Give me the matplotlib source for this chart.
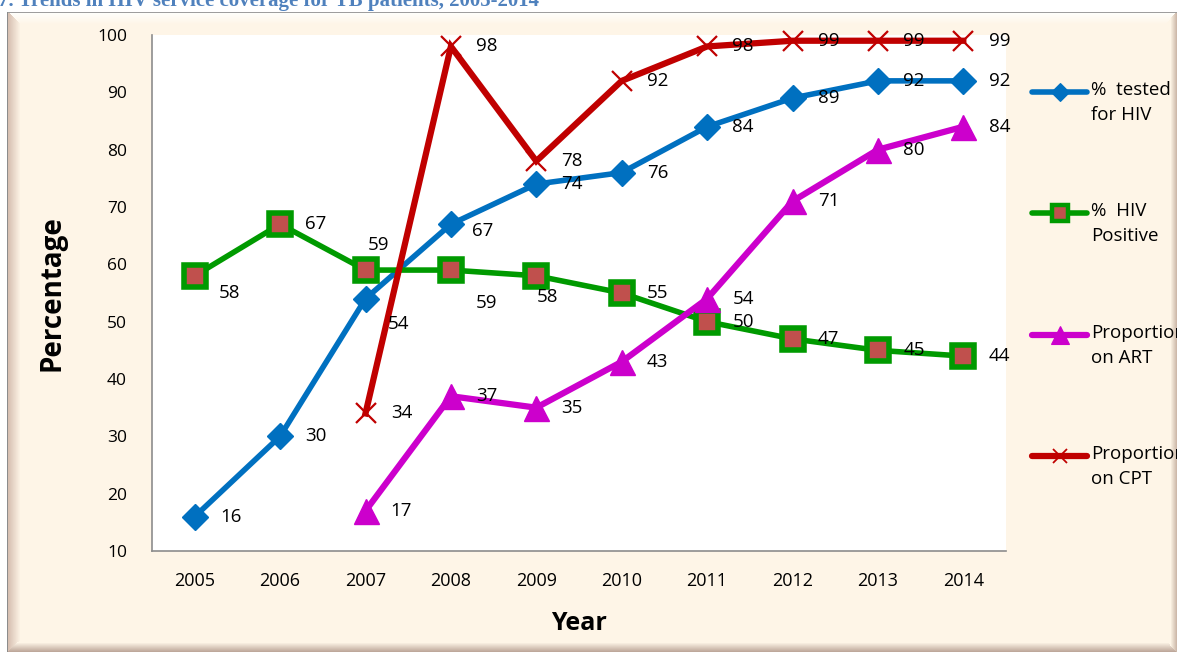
import numpy as np
import matplotlib
matplotlib.use("Agg")
import matplotlib.pyplot as plt
from matplotlib.lines import Line2D

years = [2005, 2006, 2007, 2008, 2009, 2010, 2011, 2012, 2013, 2014]
tested_hiv = [16, 30, 54, 67, 74, 76, 84, 89, 92, 92]
hiv_positive = [58, 67, 59, 59, 58, 55, 50, 47, 45, 44]
art_years = [2007, 2008, 2009, 2010, 2011, 2012, 2013, 2014]
on_art = [17, 37, 35, 43, 54, 71, 80, 84]
cpt_years = [2007, 2008, 2009, 2010, 2011, 2012, 2013, 2014]
on_cpt = [34, 98, 78, 92, 98, 99, 99, 99]

W, H, DPI = 1177, 652, 100
BEIGE = np.array([254, 245, 231]) / 255.0

fig = plt.figure(figsize=(W / DPI, H / DPI), dpi=DPI, facecolor="white")

# bevelled beige frame behind the chart
bg = np.ones((H, W, 3))
x0, y0 = 8, 12
bg[y0:, x0:] = BEIGE
def band(sl, c_out, c_in, n):
    for i in range(n):
        t = i / max(n - 1, 1)
        c = (1 - t) * np.array(c_out) / 255.0 + t * np.array(c_in) / 255.0
        sl(i, c)
def set_left(i, c): bg[y0 + i:H - i, x0 + i] = c
def set_top(i, c): bg[y0 + i, x0 + i:W - i] = c
def set_bottom(i, c): bg[H - 1 - i, x0 + i:W - i] = c
def set_right(i, c): bg[y0 + i:H - i, W - 1 - i] = c
band(set_top, (255, 255, 252), BEIGE * 255, 13)
band(set_left, (215, 192, 178), BEIGE * 255, 13)
band(set_bottom, (190, 168, 155), BEIGE * 255, 10)
band(set_right, (205, 185, 170), BEIGE * 255, 7)
bg[y0, x0:] = 0.62
bg[y0:, x0 - 1] = 0.55
fig.figimage((bg * 255).astype(np.uint8)[::-1], xo=0, yo=0, origin="lower", zorder=-5)

fig.text(-0.002, 1 - 6 / H, "7. Trends in HIV service coverage for TB patients, 2005-2014",
         fontfamily="Liberation Serif", fontweight="bold", fontsize=15,
         color="#4F81BD", va="baseline", ha="left")

ax = fig.add_axes([152 / W, 1 - 551 / H, (1006 - 152) / W, (551 - 35) / H])
ax.set_zorder(2)
ax.set_facecolor("white")
ax.set_xlim(2004.5, 2014.5)
ax.set_ylim(10, 100)
ax.set_yticks(range(10, 101, 10))
ax.set_xticks(years)
for s in ("top", "right"):
    ax.spines[s].set_visible(False)
for s in ("left", "bottom"):
    ax.spines[s].set_color("#8C8C8C")
    ax.spines[s].set_linewidth(1.2)
ax.tick_params(axis="both", length=0, labelsize=12.5)
ax.tick_params(axis="y", pad=18)
ax.tick_params(axis="x", pad=15)
for lab in ax.get_yticklabels():
    lab.set_fontfamily("Open Sans")
for lab in ax.get_xticklabels():
    lab.set_fontfamily("Open Sans")
    lab.set_fontsize(13)

ax.set_ylabel("Percentage", fontfamily="Open Sans", fontweight="bold", fontsize=20, labelpad=22)
ax.set_xlabel("Year", fontfamily="Open Sans", fontweight="bold", fontsize=18, labelpad=15)

series = [
    dict(x=years, y=tested_hiv, color="#0070C0", marker="D", ms=13, mfc="#0070C0",
         mec="#0070C0", mew=1, lw=4, label="%  tested\nfor HIV"),
    dict(x=years, y=hiv_positive, color="#009A00", marker="s", ms=16, mfc="#C0504D",
         mec="#009A00", mew=4, lw=4, label="%  HIV\nPositive"),
    dict(x=art_years, y=on_art, color="#CC00CC", marker="^", ms=18, mfc="#CC00CC",
         mec="#CC00CC", mew=1, lw=4.5, label="Proportion\non ART"),
    dict(x=cpt_years, y=on_cpt, color="#C00000", marker="x", ms=15, mfc="#C00000",
         mec="#C00000", mew=1.6, lw=4.5, label="Proportion\non CPT"),
]

# per-point label offsets in pixels (dx, dy); default is to the right
label_shift = {
    (0, 2007): (33, -25), (0, 2008): (32, -7),
    (1, 2005): (35, -17), (1, 2007): (13, 25), (1, 2008): (36, -33), (1, 2009): (11, -21),
}

for k, s in enumerate(series):
    ax.plot(s["x"], s["y"], color=s["color"], lw=s["lw"], marker=s["marker"],
            ms=s["ms"], mfc=s["mfc"], mec=s["mec"], mew=s["mew"],
            clip_on=False, zorder=3 + k, solid_joinstyle="miter")
    for xv, yv in zip(s["x"], s["y"]):
        dx, dy = label_shift.get((k, xv), (36, 0))
        ax.annotate(str(yv), (xv, yv), xytext=(dx, dy), textcoords="offset pixels",
                    ha="center", va="center", fontsize=13.5, fontfamily="Open Sans",
                    color="black", zorder=10, annotation_clip=False)

# legend drawn to the right of the plot, handle level with first label line
leg_y = [92, 213, 335, 456]
for s, yp in zip(series, leg_y):
    fy = 1 - yp / H
    fig.add_artist(Line2D([1032 / W, 1087 / W], [fy, fy], color=s["color"], lw=s["lw"],
                          solid_capstyle="round"))
    fig.add_artist(Line2D([1060 / W], [fy], color=s["color"], marker=s["marker"],
                          ms=s["ms"] * 0.7, mfc=s["mfc"], mec=s["mec"], mew=s["mew"] * 0.8))
    fig.text(1091 / W, fy + 11 / H, s["label"], fontsize=13.5, fontfamily="Open Sans",
             va="top", ha="left", linespacing=1.5)

fig.savefig("out.png", dpi=DPI, facecolor="white")
